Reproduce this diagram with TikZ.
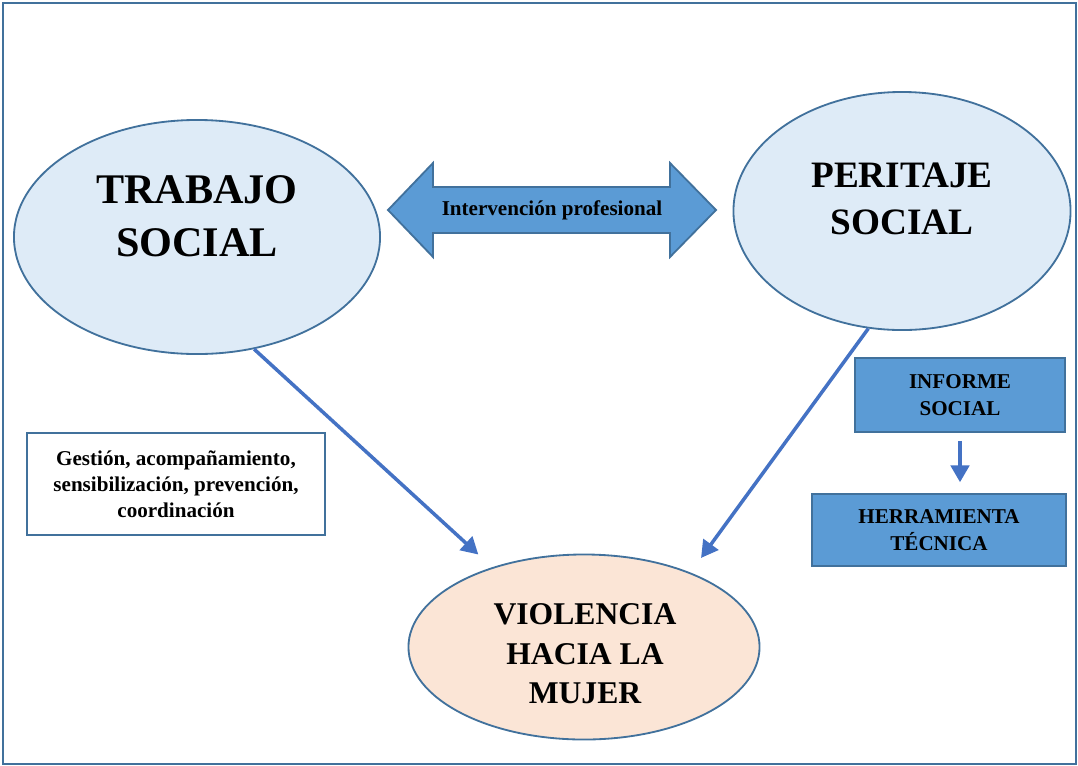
\documentclass[tikz,border=0pt]{standalone}
\usepackage{fontspec}
\setmainfont{Liberation Serif}
\usetikzlibrary{positioning,arrows.meta,shapes.geometric}

\definecolor{edgeblue}{HTML}{41719C}
\definecolor{paleblue}{HTML}{DEEBF7}
\definecolor{peach}{HTML}{FBE5D6}
\definecolor{midblue}{HTML}{5B9BD5}
\definecolor{lineblue}{HTML}{4472C4}

\begin{document}
\begin{tikzpicture}[x=0.025cm,y=-0.025cm,
  oval/.style={ellipse,draw=edgeblue,line width=1.3pt,inner sep=0pt},
  bluebox/.style={rectangle,draw=edgeblue,fill=midblue,line width=1.3pt,inner sep=0pt,
    align=center,font=\fontsize{15}{19}\selectfont\bfseries},
  conn/.style={draw=lineblue,line width=2.5pt,-{Triangle[length=12pt,width=13pt]}},
  ]

  \useasboundingbox (0,0) rectangle (1078,765);
  \draw[edgeblue,line width=1.8pt] (3,3) rectangle (1076,764);

  % ellipses
  \node[oval,fill=paleblue,minimum width=9.15cm,minimum height=5.85cm] (ts) at (197,237) {};
  \node[oval,fill=paleblue,minimum width=8.425cm,minimum height=5.95cm] (ps) at (902,211) {};
  \node[oval,fill=peach,minimum width=8.775cm,minimum height=4.625cm] (vm) at (584,647) {};

  \node[align=center,font=\fontsize{30}{38}\selectfont\bfseries] (tst) at (197,216) {TRABAJO\\SOCIAL};
  \node[align=center,font=\fontsize{26.5}{33}\selectfont\bfseries] (pst) at (902,199) {PERITAJE\\SOCIAL};
  \node[align=center,font=\fontsize{22.5}{28}\selectfont\bfseries] (vmt) at (585,654) {VIOLENCIA\\HACIA LA\\MUJER};

  % double arrow
  \draw[edgeblue,fill=midblue,line width=1.3pt,line join=miter]
    (388,210) -- (433,163) -- (433,187) -- (670,187) -- (670,163) -- (716,210)
    -- (670,257) -- (670,233) -- (433,233) -- (433,257) -- cycle;
  \node[font=\fontsize{15}{19}\selectfont\bfseries] (ip) at (552,210) {Intervención profesional};

  % boxes
  \node[bluebox,minimum width=5.25cm,minimum height=1.85cm] (inf) at (960,395) {INFORME\\SOCIAL};
  \node[bluebox,minimum width=6.35cm,minimum height=1.8cm] (her) at (939,530) {HERRAMIENTA\\TÉCNICA};
  \node[rectangle,draw=edgeblue,line width=1.3pt,inner sep=0pt,align=center,
    minimum width=7.45cm,minimum height=2.55cm,
    font=\fontsize{15}{18.5}\selectfont\bfseries] (ges) at (176,484)
    {Gestión, acompañamiento,\\sensibilización, prevención,\\coordinación};

  % arrows
  \draw[conn,shorten >=0.47cm] (ts.-63) -- (vm.139);
  \draw[conn,shorten >=0.45cm] (ps.-106) -- (vm.35);
  \draw[conn,line width=2.8pt,shorten <=0.2cm,shorten >=0.27cm] (inf.south) -- (inf.south |- her.north);

\end{tikzpicture}
\end{document}
